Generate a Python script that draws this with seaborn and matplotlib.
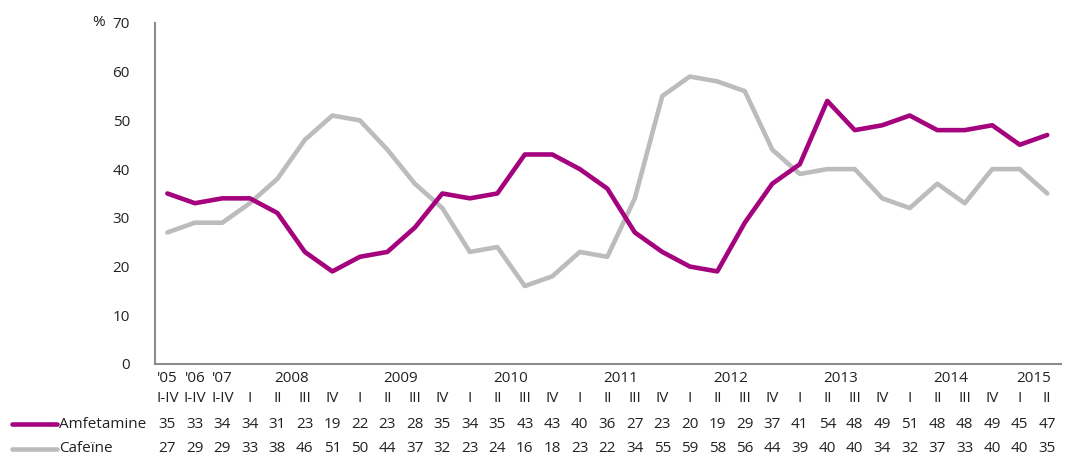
import numpy as np
import pandas as pd
import matplotlib
matplotlib.use("Agg")
import matplotlib.pyplot as plt
import matplotlib.transforms as mtransforms
import seaborn as sns

# Period labels (quarters) and year group labels
quarters = ["I-IV", "I-IV", "I-IV",
            "I", "II", "III", "IV",
            "I", "II", "III", "IV",
            "I", "II", "III", "IV",
            "I", "II", "III", "IV",
            "I", "II", "III", "IV",
            "I", "II", "III", "IV",
            "I", "II", "III", "IV",
            "I", "II"]
years = ["'05", "'06", "'07", "2008", "2009", "2010", "2011", "2012", "2013", "2014", "2015"]
year_centers = [0, 1, 2, 4.5, 8.5, 12.5, 16.5, 20.5, 24.5, 28.5, 31.5]

amfetamine = [35, 33, 34, 34, 31, 23, 19, 22, 23, 28, 35, 34, 35, 43, 43, 40, 36,
              27, 23, 20, 19, 29, 37, 41, 54, 48, 49, 51, 48, 48, 49, 45, 47]
cafeine = [27, 29, 29, 33, 38, 46, 51, 50, 44, 37, 32, 23, 24, 16, 18, 23, 22,
           34, 55, 59, 58, 56, 44, 39, 40, 40, 34, 32, 37, 33, 40, 40, 35]

series_names = ["Amfetamine", "Cafeïne"]
colors = {"Amfetamine": "#A5027D", "Cafeïne": "#BCBCBC"}

sns.set_theme(style="white")
plt.rcParams["font.family"] = ["Open Sans", "DejaVu Sans"]

n = len(quarters)
df = pd.DataFrame({
    "idx": np.tile(np.arange(n), 2),
    "value": amfetamine + cafeine,
    "series": np.repeat(series_names, n),
})

fig = plt.figure(figsize=(10.66, 4.59), dpi=100)
ax = fig.add_axes([0.1454, 0.207, 0.8499, 0.743])

sns.lineplot(data=df, x="idx", y="value", hue="series", hue_order=["Cafeïne", "Amfetamine"],
             palette=colors, linewidth=3.3, ax=ax, legend=False)

ax.set_xlim(-0.45, n - 0.5)
ax.set_ylim(0, 70)
ax.set_yticks(range(0, 71, 10))
ax.set_xticks([])
ax.set_xlabel("")
ax.set_ylabel("")
for side in ["top", "right"]:
    ax.spines[side].set_visible(False)
for side in ["left", "bottom"]:
    ax.spines[side].set_color("#8C8C8C")
    ax.spines[side].set_linewidth(1.5)
ax.tick_params(axis="y", length=0, pad=18, labelsize=11, colors="#222222")

fig.text(0.092, 0.952, "%", fontsize=11, color="#222222", ha="center", va="center")

# Table below the axis: years, quarters and values, aligned to the data x positions
trans = mtransforms.blended_transform_factory(ax.transData, fig.transFigure)
txt_kw = dict(fontsize=11, color="#222222", ha="center", va="center", transform=trans)

for label, xc in zip(years, year_centers):
    ax.text(xc, 1 - 378 / 459, label, **txt_kw)
for i, q in enumerate(quarters):
    ax.text(i, 1 - 398 / 459, q, **txt_kw)

row_y = {"Amfetamine": 1 - 424 / 459, "Cafeïne": 1 - 449 / 459}
row_vals = {"Amfetamine": amfetamine, "Cafeïne": cafeine}
for name in series_names:
    y = row_y[name]
    for i, v in enumerate(row_vals[name]):
        ax.text(i, y, str(v), **txt_kw)
    fig.add_artist(plt.Line2D([12 / 1066, 57 / 1066], [y, y], color=colors[name],
                              linewidth=3.3, solid_capstyle="round", transform=fig.transFigure))
    fig.text(59 / 1066, y, name, fontsize=11, color="#222222", ha="left", va="center")

fig.savefig("out.png", dpi=100)
